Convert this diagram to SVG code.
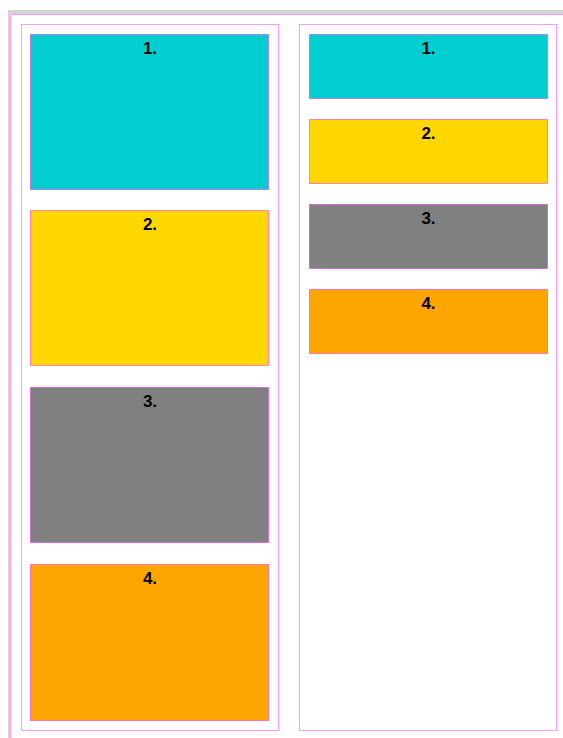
<svg xmlns="http://www.w3.org/2000/svg" width="563" height="738" viewBox="0 0 563 738">
<style>
.col{fill:none;stroke:#ff99ff;stroke-width:1}
.card{stroke:#ff00ff;stroke-opacity:0.45;stroke-width:1}
.lbl{font-family:"Liberation Sans",Arial,sans-serif;font-weight:bold;font-size:17px;fill:#000;text-anchor:middle}
</style>
<rect x="0" y="0" width="563" height="738" fill="#fff"/>
<rect x="8" y="10" width="555" height="728" fill="#d3d3d3"/>
<rect x="10" y="14" width="553" height="724" fill="#fff"/>
<path d="M10.5 738 V14.5 H563" fill="none" stroke="#ff99ff" stroke-width="1"/>
<g id="column-left">
<rect class="col" x="21.5" y="24.5" width="257" height="706"/>
</g>
<g id="column-right">
<rect class="col" x="299.5" y="24.5" width="257" height="706"/>
</g>
<g id="left-1"><rect class="card" x="30.5" y="34.5" width="238" height="155" fill="#00ced1"/><text class="lbl" x="150" y="54">1.</text></g>
<g id="left-2"><rect class="card" x="30.5" y="210.5" width="238" height="155" fill="#ffd700"/><text class="lbl" x="150" y="230">2.</text></g>
<g id="left-3"><rect class="card" x="30.5" y="387.5" width="238" height="155" fill="#808080"/><text class="lbl" x="150" y="407">3.</text></g>
<g id="left-4"><rect class="card" x="30.5" y="564.5" width="238" height="156" fill="#ffa500"/><text class="lbl" x="150" y="584">4.</text></g>
<g id="right-1"><rect class="card" x="309.5" y="34.5" width="238" height="64" fill="#00ced1"/><text class="lbl" x="428.5" y="54">1.</text></g>
<g id="right-2"><rect class="card" x="309.5" y="119.5" width="238" height="64" fill="#ffd700"/><text class="lbl" x="428.5" y="139">2.</text></g>
<g id="right-3"><rect class="card" x="309.5" y="204.5" width="238" height="64" fill="#808080"/><text class="lbl" x="428.5" y="224">3.</text></g>
<g id="right-4"><rect class="card" x="309.5" y="289.5" width="238" height="64" fill="#ffa500"/><text class="lbl" x="428.5" y="309">4.</text></g>
<g id="connectors"></g>
</svg>
